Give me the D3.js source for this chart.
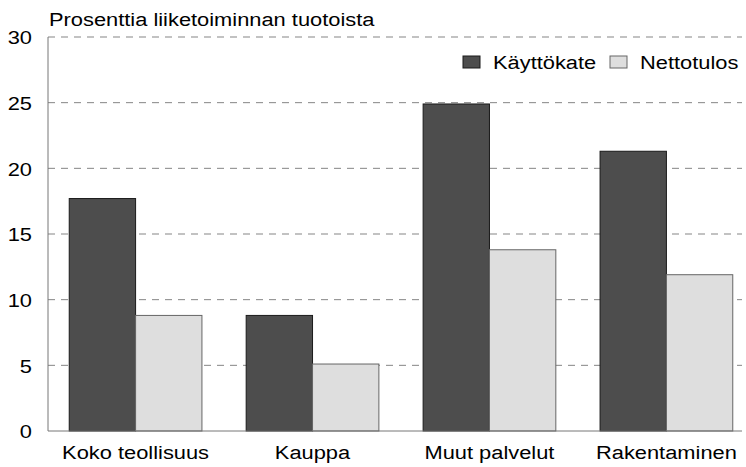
<!DOCTYPE html>
<html>
<head>
<meta charset="utf-8">
<script src="https://cdn.jsdelivr.net/npm/d3@7"></script>
<style>
  body { margin: 0; background: #fff; }
  text { font-family: "Liberation Sans", Arial, sans-serif; fill: #000; font-size: 19px;
         transform-box: fill-box; transform: scaleX(1.15); }
  .ylab text { transform-origin: right center; }
  .xlab text { transform-origin: center center; }
  .left { transform-origin: left center; }
</style>
</head>
<body>
<div id="chart"></div>
<script>
  // data
  var categories = ["Koko teollisuus", "Kauppa", "Muut palvelut", "Rakentaminen"];
  var series = ["Käyttökate", "Nettotulos"];
  var kayttokate = [17.7, 8.8, 24.9, 21.3];
  var nettotulos = [8.8, 5.1, 13.8, 11.9];
  var yTicks = [0, 5, 10, 15, 20, 25, 30];
  var colors = ["#4d4d4d", "#dedede"];
  var strokes = ["#1a1a1a", "#666"];

  var W = 746, H = 467;
  var margin = {top: 37, right: 4, bottom: 36, left: 48},
      width = W - margin.left - margin.right,
      height = H - margin.top - margin.bottom;

  var rows = categories.map(function(c, i) {
    return {cat: c, vals: [kayttokate[i], nettotulos[i]]};
  });

  var x0 = d3.scaleBand()
    .domain(categories)
    .range([0, 706])
    .paddingInner(0.25)
    .paddingOuter(0.12);
  var x1 = d3.scaleBand()
    .domain([0, 1])
    .range([0, x0.bandwidth()]);
  var y = d3.scaleLinear()
    .domain([0, 30])
    .range([height, 0]);

  var svg = d3.select("#chart")
    .append("svg")
      .attr("width", W)
      .attr("height", H);
  var vis = svg.append("g")
    .attr("transform", "translate(" + margin.left + "," + margin.top + ")");

  // dashed grid
  vis.append("g")
    .selectAll("line")
    .data(yTicks.filter(function(d) { return d > 0; }))
    .enter()
    .append("line")
      .attr("x1", 0)
      .attr("x2", width)
      .attr("y1", function(d) { return y(d); })
      .attr("y2", function(d) { return y(d); })
      .style("stroke", "#858585")
      .style("stroke-width", 1)
      .style("stroke-dasharray", "7 6");

  // y tick labels
  var yax = d3.axisLeft(y).tickValues(yTicks).tickSize(0).tickPadding(16);
  var ya = vis.append("g").attr("class", "ylab").call(yax);
  ya.select(".domain").remove();
  ya.selectAll("text")
    .attr("dy", "0.36em");
  ya.attr("font-size", null).attr("font-family", null);

  // bars
  var groups = vis.append("g")
    .selectAll("g")
    .data(rows)
    .enter()
    .append("g")
      .attr("transform", function(d) { return "translate(" + x0(d.cat) + ",0)"; });

  groups.selectAll("rect")
    .data(function(d) { return d.vals; })
    .enter()
    .append("rect")
      .attr("x", function(d, i) { return x1(i); })
      .attr("y", function(d) { return y(d); })
      .attr("width", x1.bandwidth())
      .attr("height", function(d) { return height - y(d); })
      .style("fill", function(d, i) { return colors[i]; })
      .style("stroke", function(d, i) { return strokes[i]; })
      .style("stroke-width", 1);

  // axis lines
  vis.append("line")
    .attr("x1", 0).attr("x2", 0)
    .attr("y1", y(30)).attr("y2", y(0))
    .style("stroke", "#777");
  vis.append("line")
    .attr("x1", 0).attr("x2", width)
    .attr("y1", y(0)).attr("y2", y(0))
    .style("stroke", "#777");

  // category labels
  var xax = d3.axisBottom(x0).tickSize(0).tickPadding(15);
  var xa = vis.append("g")
    .attr("class", "xlab")
    .attr("transform", "translate(0," + height + ")")
    .call(xax);
  xa.select(".domain").remove();
  xa.attr("font-size", null).attr("font-family", null);

  // title
  svg.append("text")
    .attr("class", "left")
    .attr("x", 49)
    .attr("y", 26)
    .text("Prosenttia liiketoiminnan tuotoista");

  // legend
  var legX = [463, 610];
  var leg = svg.append("g")
    .selectAll("g")
    .data(series)
    .enter()
    .append("g")
      .attr("transform", function(d, i) { return "translate(" + legX[i] + ",56)"; });
  leg.append("rect")
    .attr("width", 17)
    .attr("height", 12)
    .style("fill", function(d, i) { return colors[i]; })
    .style("stroke", function(d, i) { return strokes[i]; });
  leg.append("text")
    .attr("class", "left")
    .attr("x", 30)
    .attr("y", 13)
    .text(function(d) { return d; });
</script>
</body>
</html>
